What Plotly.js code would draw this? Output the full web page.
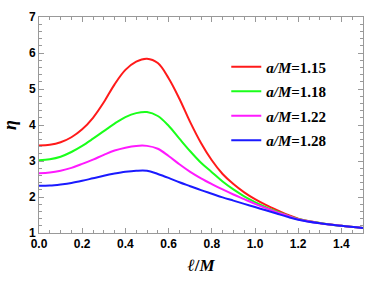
<!DOCTYPE html>
<html>
<head>
<meta charset="utf-8">
<script src="https://cdn.plot.ly/plotly-3.0.1.min.js"></script>
<style>html,body{margin:0;padding:0;background:#fff;}#chart{width:382px;height:281px;}</style>
</head>
<body>
<div id="chart"></div>
<script>
// l/M values
const xVals = [0, 0.05, 0.10, 0.15, 0.20, 0.25, 0.30, 0.35, 0.40, 0.45, 0.50, 0.55, 0.60, 0.65, 0.70, 0.75, 0.80, 0.85, 0.90, 0.95, 1.00, 1.05, 1.10, 1.15, 1.20, 1.30, 1.40, 1.50];
// eta for each a/M
const eta115 = [3.43, 3.45, 3.52, 3.66, 3.88, 4.20, 4.63, 5.13, 5.53, 5.76, 5.84, 5.72, 5.30, 4.73, 4.08, 3.50, 3.02, 2.64, 2.36, 2.13, 1.94, 1.78, 1.64, 1.51, 1.40, 1.28, 1.20, 1.14];
const eta118 = [3.02, 3.05, 3.12, 3.25, 3.42, 3.62, 3.83, 4.04, 4.22, 4.33, 4.36, 4.25, 3.98, 3.62, 3.27, 2.95, 2.69, 2.43, 2.21, 2.02, 1.86, 1.72, 1.60, 1.49, 1.39, 1.28, 1.20, 1.14];
const eta122 = [2.66, 2.68, 2.73, 2.81, 2.92, 3.04, 3.17, 3.29, 3.37, 3.42, 3.42, 3.34, 3.14, 2.91, 2.70, 2.52, 2.36, 2.21, 2.07, 1.94, 1.81, 1.69, 1.58, 1.48, 1.38, 1.27, 1.20, 1.14];
const eta128 = [2.31, 2.32, 2.35, 2.39, 2.45, 2.52, 2.59, 2.65, 2.70, 2.73, 2.73, 2.64, 2.53, 2.41, 2.30, 2.19, 2.09, 1.99, 1.90, 1.81, 1.72, 1.63, 1.54, 1.45, 1.37, 1.27, 1.20, 1.14];
const seriesNames = ["<i>a/M</i>=1.15", "<i>a/M</i>=1.18", "<i>a/M</i>=1.22", "<i>a/M</i>=1.28"];
const seriesData = [eta115, eta118, eta122, eta128];
const colors = ["#ff1a1a", "#1aff1a", "#ff1aff", "#1a1aff"];

const traces = seriesData.map((ys, i) => ({
  x: xVals, y: ys, type: "scatter", mode: "lines",
  name: seriesNames[i], legendgroup: "g" + i,
  line: {color: colors[i], width: 2, shape: "spline", smoothing: 1}
}));

const axisCommon = {
  showgrid: false, zeroline: false, showline: true, linecolor: "#999", linewidth: 1,
  mirror: "ticks", ticks: "inside", ticklen: 5, tickcolor: "#999", tickwidth: 1,
  tickfont: {family: "Liberation Sans, Arial, sans-serif", size: 12, color: "#000", weight: "bold"}
};

const layout = {
  width: 382, height: 281,
  margin: {l: 39, r: 19, t: 17, b: 48},
  paper_bgcolor: "#fff", plot_bgcolor: "#fff",
  showlegend: true,
  legend: {
    x: 0.578, y: 0.845, xanchor: "left", yanchor: "top",
    bgcolor: "rgba(0,0,0,0)", traceorder: "grouped", tracegroupgap: 2,
    font: {family: "Liberation Serif, Times New Roman, serif", size: 15, color: "#000", weight: "bold"}
  },
  xaxis: Object.assign({}, axisCommon, {
    range: [0, 1.5], dtick: 0.2, tick0: 0, tickformat: ".1f",
    minor: {dtick: 0.05, ticks: "inside", ticklen: 3, tickcolor: "#999"},
    title: {text: "<i>ℓ</i>/<i>M</i>", standoff: 8,
      font: {family: "Liberation Serif, Times New Roman, serif", size: 17, color: "#000", weight: "bold"}}
  }),
  yaxis: Object.assign({}, axisCommon, {
    range: [1, 7], dtick: 1, tick0: 1,
    minor: {dtick: 0.2, ticks: "inside", ticklen: 3, tickcolor: "#999"},
    title: {text: "<i>η</i>", standoff: 8,
      font: {family: "Liberation Serif, Times New Roman, serif", size: 18, color: "#000", weight: "bold"}}
  })
};

Plotly.newPlot("chart", traces, layout, {staticPlot: true, displayModeBar: false});
</script>
</body>
</html>
